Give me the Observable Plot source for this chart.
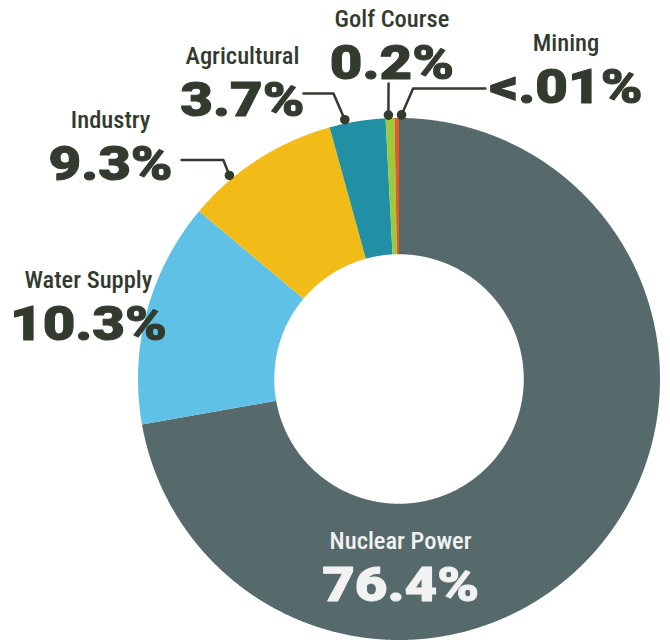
<!DOCTYPE html>
<html>
<head>
<meta charset="utf-8">
<script src="https://cdn.jsdelivr.net/npm/d3@7"></script>
<script src="https://cdn.jsdelivr.net/npm/@observablehq/plot@0.6"></script>
<style>
  html, body { margin: 0; padding: 0; background: #ffffff; }
  #chart svg { display: block; }
</style>
</head>
<body>
<div id="chart"></div>
<script>
// ---- data ----
const categories = ["Nuclear Power", "Water Supply", "Industry", "Agricultural", "Golf Course", "Mining"];
const shareLabels = ["76.4%", "10.3%", "9.3%", "3.7%", "0.2%", "<.01%"];
// arc sizes as drawn in the picture (percent of the full circle)
const arcShare = [72.2, 13.9, 9.6, 3.46, 0.54, 0.28];
const sliceColors = ["#566a6c", "#5fc1e6", "#f2bc18", "#2290a4", "#9bcb3c", "#e45a26"];

// ---- layout (in donut-radius units, centre = 0,0, y downwards) ----
const innerRadius = 0.478;
const labelAnchor = {
  "Nuclear Power": [0.006, 0.849],
  "Water Supply": [-1.19, -0.148],
  "Industry": [-1.105, -0.761],
  "Agricultural": [-0.600, -1.006],
  "Golf Course": [-0.027, -1.151],
  "Mining": [0.640, -1.059]
};
const leaderPaths = {
  "Industry": [[320.2, 1.015], [-0.673, -0.839], [-0.833, -0.839]],
  "Agricultural": [[348.2, 1.015], [-0.251, -1.094], [-0.366, -1.094]],
  "Golf Course": [[357.7, 1.012], [-0.040, -1.132]],
  "Mining": [[0.55, 1.012], [0.054, -1.113], [0.331, -1.113]]
};

const rows = categories.map((c, i) => ({name: c, label: shareLabels[i], share: arcShare[i]}));
const arcs = d3.pie().sort(null).value(d => d.share)(rows);

const polar = (deg, r) => {
  const a = deg * Math.PI / 180;
  return [Math.sin(a) * r, -Math.cos(a) * r];
};

// slice outlines
const slicePts = [];
for (const a of arcs) {
  const a0 = a.startAngle * 180 / Math.PI, a1 = a.endAngle * 180 / Math.PI;
  const n = Math.max(2, Math.ceil((a1 - a0) / 0.25));
  for (let k = 0; k <= n; k++) {
    const [x, y] = polar(a0 + (a1 - a0) * k / n, 1);
    slicePts.push({name: a.data.name, x, y});
  }
  for (let k = n; k >= 0; k--) {
    const [x, y] = polar(a0 + (a1 - a0) * k / n, innerRadius);
    slicePts.push({name: a.data.name, x, y});
  }
}

// leader lines
const leaderPts = [];
const leaderDots = [];
for (const [name, pts] of Object.entries(leaderPaths)) {
  pts.forEach((p, i) => {
    const [x, y] = i === 0 ? polar(p[0], p[1]) : p;
    leaderPts.push({name, x, y});
    if (i === 0) leaderDots.push({name, x, y});
  });
}

const labels = rows.map(r => ({name: r.name, label: r.label, x: labelAnchor[r.name][0], y: labelAnchor[r.name][1]}));

const dark = "#333b2f";
const light = "#f2f2f2";
const nameFont = "'Roboto Condensed', 'Liberation Sans Narrow', 'DejaVu Sans Condensed', 'Arial Narrow', sans-serif";
const valueFont = "Roboto, 'Open Sans', Inter, sans-serif";

const chart = Plot.plot({
  width: 670,
  height: 644,
  margin: 0,
  style: {background: "#ffffff", overflow: "visible"},
  x: {domain: [-1, 1], range: [137.5, 659.5], axis: null},
  y: {domain: [-1, 1], range: [117.5, 639.5], axis: null},
  color: {domain: categories, range: sliceColors},
  marks: [
    Plot.line(slicePts, {x: "x", y: "y", z: "name", fill: "name", stroke: "none", curve: "linear"}),
    Plot.line(leaderPts, {x: "x", y: "y", z: "name", stroke: dark, strokeWidth: 2.5, strokeLinejoin: "round"}),
    Plot.dot(leaderDots, {x: "x", y: "y", r: 4.8, fill: dark, stroke: "none"}),
    // values
    Plot.text(labels, {filter: d => d.name !== "Nuclear Power", x: "x", y: "y", text: "label",
      fontFamily: valueFont, fontWeight: 900, fontSize: 49, fill: dark, stroke: dark, strokeWidth: 1,
      lineAnchor: "bottom", textAnchor: "middle"}),
    Plot.text(labels, {filter: d => d.name === "Nuclear Power", x: "x", y: "y", text: "label",
      fontFamily: valueFont, fontWeight: 900, fontSize: 49, fill: light, stroke: light, strokeWidth: 1,
      lineAnchor: "bottom", textAnchor: "middle"}),
    // category names
    Plot.text(labels, {filter: d => d.name !== "Nuclear Power", x: "x", y: "y", dy: -52, text: "name",
      fontFamily: nameFont, fontWeight: 500, fontSize: 24.5, fill: dark, lineAnchor: "bottom", textAnchor: "middle"}),
    Plot.text(labels, {filter: d => d.name === "Nuclear Power", x: "x", y: "y", dy: -52, text: "name",
      fontFamily: nameFont, fontWeight: 500, fontSize: 24.5, fill: light, lineAnchor: "bottom", textAnchor: "middle"})
  ]
});
document.getElementById("chart").appendChild(chart);

// widen the heavy percentage figures (the original uses an extended black face)
d3.select(chart).selectAll('g[font-size="49"] text').each(function () {
  const w = this.getComputedTextLength();
  if (w > 0) {
    this.setAttribute("textLength", (w * 1.15).toFixed(1));
    this.setAttribute("lengthAdjust", "spacingAndGlyphs");
  }
});
</script>
</body>
</html>
